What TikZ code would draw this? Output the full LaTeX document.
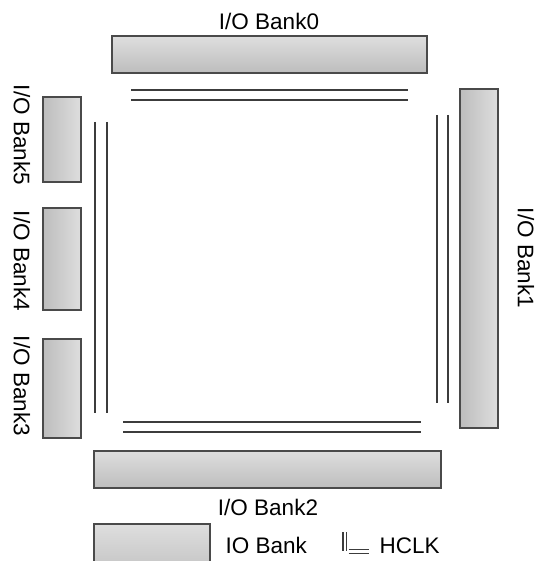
\documentclass[tikz,border=0pt]{standalone}
\usepackage{fontspec}
\setmainfont{Liberation Sans}
\usetikzlibrary{positioning}
\definecolor{BankLight}{HTML}{DEDEDE}
\definecolor{BankDark}{HTML}{BDBDBD}
\definecolor{BankEdge}{HTML}{4A4A4A}
\definecolor{ClkLine}{HTML}{3C3C3C}

\begin{document}
\begin{tikzpicture}[x=1pt, y=-1pt, font=\fontsize{22.5}{26}\selectfont,
    hbank/.style={draw=BankEdge, line width=1.5pt, inner sep=0pt, top color=BankLight, bottom color=BankDark},
    vbank/.style={draw=BankEdge, line width=1.5pt, inner sep=0pt, left color=BankDark, right color=BankLight},
    clk/.style={draw=ClkLine, line width=1.3pt}]
                \clip (0,0) rectangle (541,561);
                % banks
                \node[hbank, minimum width=315pt, minimum height=37pt] (bank0) at (269.5,54.5) {};
                \node[vbank, minimum width=38pt, minimum height=339pt] (bank1) at (479,258.5) {};
                \node[hbank, minimum width=347pt, minimum height=37pt] (bank2) at (267.5,469.5) {};
                \node[vbank, minimum width=38pt, minimum height=99pt] (bank3) at (62,388.5) {};
                \node[vbank, minimum width=38pt, minimum height=102pt] (bank4) at (62,259) {};
                \node[vbank, minimum width=38pt, minimum height=85pt] (bank5) at (62,139.5) {};
                \node[hbank, minimum width=116pt, minimum height=60pt] (legbank) at (152,554) {};

                % labels
                \node[anchor=base] (lab0) at (269,30) {I/O Bank0};
                \node[rotate=-90] (lab1) at (526,258) {I/O Bank1};
                \node[anchor=base] (lab2) at (268,515) {I/O Bank2};
                \node[rotate=-90] (lab3) at (22,386) {I/O Bank3};
                \node[rotate=-90] (lab4) at (22,261) {I/O Bank4};
                \node[rotate=-90] (lab5) at (22,135) {I/O Bank5};
                \node[anchor=base west] (legio) at (222,553) {IO Bank};
                \node[anchor=base west] (legclk) at (376,553) {HCLK};

                % HCLK lines
                \draw[clk] (131,90) -- (408,90);
                \draw[clk] (131,100) -- (408,100);
                \draw[clk] (437,115) -- (437,403);
                \draw[clk] (448,115) -- (448,403);
                \draw[clk] (123,422) -- (421,422);
                \draw[clk] (123,432) -- (421,432);
                \draw[clk] (95,122) -- (95,413);
                \draw[clk] (107,122) -- (107,413);

                % legend symbol
                \draw[clk, line width=1.2pt] (343,532) -- (343,551);
                \draw[clk, line width=1.2pt] (346.5,532) -- (346.5,551);
                \draw[clk, line width=1.2pt] (348.5,549.5) -- (369,549.5);
                \draw[clk, line width=1.2pt] (348.5,553.5) -- (369,553.5);
            \end{tikzpicture}
\end{document}
